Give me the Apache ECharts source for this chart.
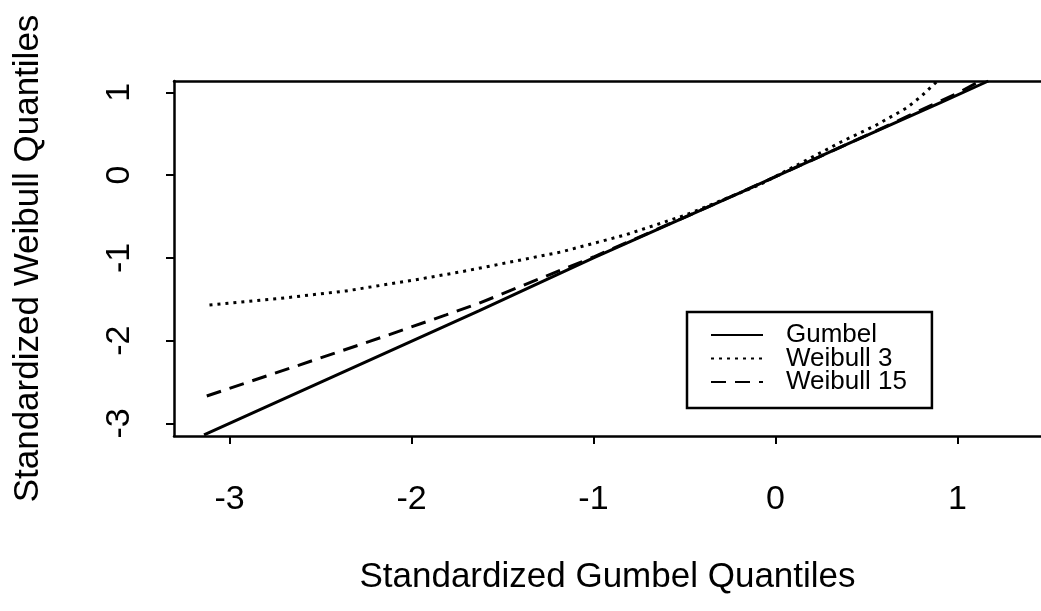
<!DOCTYPE html>
<html>
<head>
<meta charset="utf-8">
<script src="https://cdn.jsdelivr.net/npm/echarts@6/dist/echarts.min.js"></script>
<style>
  html, body { margin: 0; padding: 0; background: #fff; overflow: hidden; }
  #chart { width: 1041px; height: 611px; }
</style>
</head>
<body>
<div id="chart"></div>
<script>
// values: [gumbel quantile, weibull quantile]
var gumbel = [[-3.14, -3.14], [-1.63, -1.64], [-1.0, -1.0], [-0.19, -0.21], [0.36, 0.34], [0.91, 0.88], [1.17, 1.137]];
var weibull3 = [[-3.11, -1.57], [-2.72, -1.49], [-2.36, -1.40], [-1.99, -1.27], [-1.73, -1.17], [-1.18, -0.93],
  [-0.82, -0.72], [-0.49, -0.48], [-0.09, -0.12], [0.36, 0.40], [0.55, 0.60], [0.72, 0.81], [0.80, 0.95], [0.89, 1.137]];
var weibull15 = [[-3.125, -2.67], [-2.67, -2.335], [-2.23, -2.01], [-1.81, -1.69], [-1.63, -1.55], [-1.26, -1.22],
  [-1.0, -0.99], [-0.5, -0.51], [0.0, -0.02], [0.5, 0.48], [1.0, 0.99], [1.126, 1.137]];

var xTicks = [-3, -2, -1, 0, 1];
var yTicks = [-3, -2, -1, 0, 1];
var seriesNames = ['Gumbel', 'Weibull 3', 'Weibull 15'];

var FONT = '"Liberation Sans", Arial, sans-serif';
var X_MIN = -3.305, X_MAX = 1.459;
var Y_MIN = -3.153, Y_MAX = 1.137;

var make_series = function(name, data, type, width){
  return {
    name: name,
    type: 'line',
    data: data,
    xAxisIndex: 0,
    symbol: 'none',
    clip: true,
    lineStyle: { color: '#000', width: width, type: type },
    itemStyle: { color: '#000' }
  };
};

var chart = echarts.init(document.getElementById('chart'), null, { renderer: 'canvas' });

var option = {
  animation: false,
  backgroundColor: '#fff',
  grid: { left: 174, top: 81, right: 0, bottom: 175, show: false },
  xAxis: [{
    type: 'value',
    min: X_MIN, max: X_MAX,
    splitLine: { show: false },
    axisLine: { show: true, onZero: false, lineStyle: { color: '#000', width: 2.5 } },
    axisTick: { show: true, inside: false, length: 8, customValues: xTicks, lineStyle: { color: '#000', width: 2 } },
    axisLabel: { customValues: xTicks, margin: 47, fontSize: 34, color: '#000', fontFamily: FONT },
    name: 'Standardized Gumbel Quantiles',
    nameLocation: 'middle',
    nameGap: 124,
    nameTextStyle: { fontSize: 35, color: '#000', fontFamily: FONT }
  }, {
    // top side of the box
    type: 'value',
    position: 'top',
    min: X_MIN, max: X_MAX,
    splitLine: { show: false },
    axisLine: { show: true, onZero: false, lineStyle: { color: '#000', width: 2.5 } },
    axisTick: { show: false },
    axisLabel: { show: false }
  }],
  yAxis: {
    type: 'value',
    min: Y_MIN, max: Y_MAX,
    splitLine: { show: false },
    axisLine: { show: true, onZero: false, lineStyle: { color: '#000', width: 2.5 } },
    axisTick: { show: true, inside: false, length: 8, customValues: yTicks, lineStyle: { color: '#000', width: 2 } },
    axisLabel: { customValues: yTicks, rotate: 90, margin: 37, fontSize: 34, color: '#000', fontFamily: FONT },
    name: 'Standardized Weibull Quantiles',
    nameLocation: 'middle',
    nameGap: 128,
    nameTextStyle: { fontSize: 35, color: '#000', fontFamily: FONT }
  },
  legend: {
    data: seriesNames,
    orient: 'vertical',
    left: 687, top: 312,
    padding: [10, 25, 13, 23],
    itemGap: -2.5,
    itemWidth: 52,
    itemHeight: 14,
    itemStyle: { opacity: 0 },
    borderColor: '#000',
    borderWidth: 2.5,
    backgroundColor: '#fff',
    textStyle: { fontSize: 26, lineHeight: 23.5, color: '#000', fontFamily: FONT, padding: [0, 0, 0, 18] }
  },
  series: [
    make_series('Gumbel', gumbel, 'solid', 3),
    make_series('Weibull 3', weibull3, [3, 5], 3),
    make_series('Weibull 15', weibull15, [15, 9], 3)
  ]
};

chart.setOption(option);
</script>
</body>
</html>
